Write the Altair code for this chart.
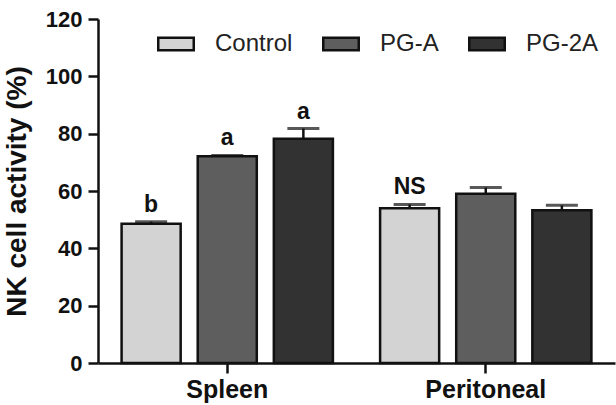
import altair as alt
import pandas as pd

# NK cell activity (%) by tissue and treatment, mean with upper error
tissues = ["Spleen", "Peritoneal"]
groups = ["Control", "PG-A", "PG-2A"]
spleen_mean = [48.6, 72.1, 78.2]
spleen_err = [0.7, 0.3, 3.6]
peritoneal_mean = [54.0, 59.0, 53.3]
peritoneal_err = [1.3, 2.2, 1.7]
spleen_marks = ["b", "a", "a"]
peritoneal_marks = ["NS", "", ""]
fills = ["#d3d3d3", "#5e5e5e", "#323232"]

rows = []
for t, means, errs, marks in [
    ("Spleen", spleen_mean, spleen_err, spleen_marks),
    ("Peritoneal", peritoneal_mean, peritoneal_err, peritoneal_marks),
]:
    for g, m, e, s in zip(groups, means, errs, marks):
        rows.append({"tissue": t, "group": g, "mean": m, "top": m + e, "sig": s})
df = pd.DataFrame(rows)

FONT = "Liberation Sans"
INK = "#111"

x_enc = alt.X(
    "tissue:N",
    sort=tissues,
    title=None,
    scale=alt.Scale(paddingInner=0, paddingOuter=0),
    axis=alt.Axis(
        labelFont=FONT, labelFontSize=25, labelFontWeight="bold", labelColor=INK,
        labelAngle=0, labelPadding=4, tickSize=10, tickWidth=2.5, tickColor=INK,
        domainColor=INK, domainWidth=2.5,
    ),
)
xoff = alt.XOffset(
    "group:N", sort=groups,
    scale=alt.Scale(paddingInner=0.224, paddingOuter=0.31),
)
y_scale = alt.Scale(domain=[0, 120])

base = alt.Chart(df)

bars = base.mark_bar(stroke=INK, strokeWidth=2.5).encode(
    x=x_enc,
    xOffset=xoff,
    y=alt.Y(
        "mean:Q",
        scale=y_scale,
        title="NK cell activity (%)",
        axis=alt.Axis(
            values=[0, 20, 40, 60, 80, 100, 120], grid=False,
            labelFont=FONT, labelFontSize=22, labelFontWeight="bold", labelColor=INK,
            labelPadding=6, tickSize=10, tickWidth=2.5, tickColor=INK,
            domainColor=INK, domainWidth=2.5,
            titleFont=FONT, titleFontSize=28, titleFontWeight="bold", titleColor=INK,
            titlePadding=14,
        ),
    ),
    color=alt.Color(
        "group:N",
        sort=groups,
        scale=alt.Scale(domain=groups, range=fills),
        legend=alt.Legend(
            title=None, orient="none", direction="horizontal",
            legendX=59, legendY=6,
            symbolType="M-1,-0.35L1,-0.35L1,0.35L-1,0.35Z",
            symbolSize=1260, symbolStrokeColor=INK, symbolStrokeWidth=2.5,
            symbolOpacity=1,
            labelFont=FONT, labelFontSize=24, labelColor="#222",
            labelOffset=20, columnPadding=25,
        ),
    ),
)

err_rule = base.mark_rule(color=INK, strokeWidth=2.5).encode(
    x=x_enc, xOffset=xoff,
    y=alt.Y("mean:Q", scale=y_scale), y2="top:Q",
)
err_cap = base.mark_tick(color=INK, thickness=3, size=32, orient="horizontal").encode(
    x=x_enc, xOffset=xoff, y=alt.Y("top:Q", scale=y_scale),
)
sig = base.mark_text(
    font=FONT, fontSize=23, fontWeight="bold", color=INK, baseline="bottom", dy=-5,
).encode(
    x=x_enc, xOffset=xoff, y=alt.Y("top:Q", scale=y_scale), text="sig:N",
)

chart = (
    alt.layer(bars, err_rule, err_cap, sig)
    .properties(
        width=517, height=344,
        autosize=alt.AutoSizeParams(type="none"),
        padding={"left": 98, "top": 19, "right": 1, "bottom": 42},
        background="white",
    )
    .configure_view(stroke=None)
)

chart.save("out.html", embed_options={"renderer": "svg", "actions": False})
